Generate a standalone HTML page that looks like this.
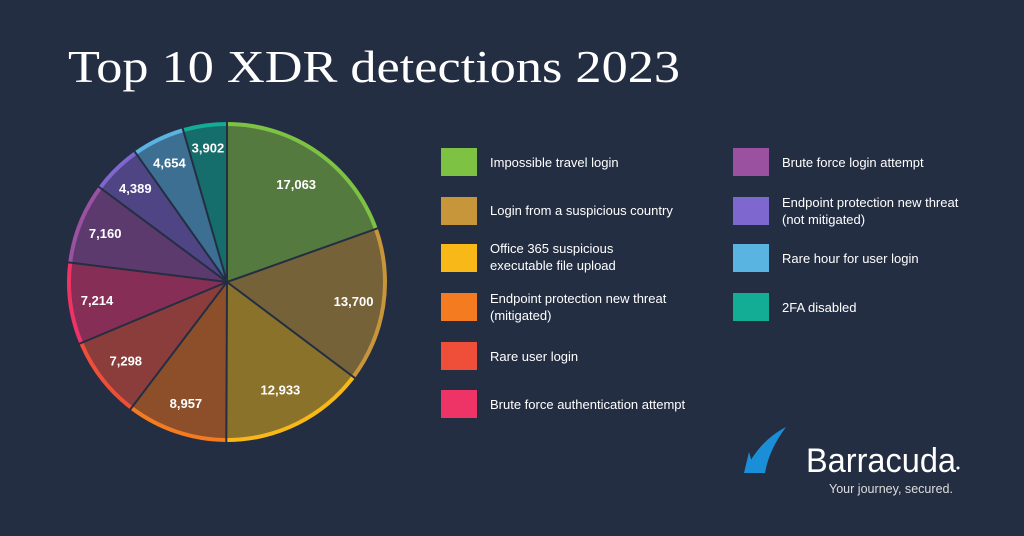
<!DOCTYPE html>
<html><head><meta charset="utf-8"><style>
html,body{margin:0;padding:0;background:#242e42;}
svg{display:block}
</style></head><body>
<svg id="s" width="1024" height="536" xmlns="http://www.w3.org/2000/svg" font-family="Liberation Sans, sans-serif">
<rect width="1024" height="536" fill="#242e42"/>
<text x="68" y="82" fill="#fff" font-family="Liberation Serif, serif" font-size="46" textLength="612" lengthAdjust="spacingAndGlyphs">Top 10 XDR detections 2023</text>
<g id="pie"></g>
<g font-size="13" fill="#fff">
<rect x="441" y="148" width="36" height="28" fill="#7dc242"/><text x="490" y="167">Impossible travel login</text>
<rect x="441" y="197" width="36" height="28" fill="#c8963a"/><text x="490" y="215">Login from a suspicious country</text>
<rect x="441" y="244" width="36" height="28" fill="#f8b817"/><text x="490" y="253">Office 365 suspicious</text><text x="490" y="270">executable file upload</text>
<rect x="441" y="293" width="36" height="28" fill="#f47b20"/><text x="490" y="303">Endpoint protection new threat</text><text x="490" y="320">(mitigated)</text>
<rect x="441" y="342" width="36" height="28" fill="#ef4e38"/><text x="490" y="361">Rare user login</text>
<rect x="441" y="390" width="36" height="28" fill="#ee3466"/><text x="490" y="409">Brute force authentication attempt</text>
<rect x="733" y="148" width="36" height="28" fill="#9a52a0"/><text x="782" y="167">Brute force login attempt</text>
<rect x="733" y="197" width="36" height="28" fill="#7e68cf"/><text x="782" y="207">Endpoint protection new threat</text><text x="782" y="224">(not mitigated)</text>
<rect x="733" y="244" width="36" height="28" fill="#5ab4e2"/><text x="782" y="263">Rare hour for user login</text>
<rect x="733" y="293" width="36" height="28" fill="#13ad96"/><text x="782" y="312">2FA disabled</text>
</g>
<path d="M744 473 C752 455 765 438 786 427 C775 442 768 456 765 473 Z" fill="#1a8fd8"/>
<path d="M744 473 L749 452 L755 473 Z" fill="#1a8fd8"/>
<text x="806" y="472" fill="#fff" font-size="34" textLength="150" lengthAdjust="spacingAndGlyphs">Barracuda</text>
<circle cx="958" cy="468" r="1.5" fill="#fff"/>
<text x="829" y="493" fill="#ddd" font-size="13" textLength="124" lengthAdjust="spacingAndGlyphs">Your journey, secured.</text>
</svg>
<script>
var d=[[17063,"#557a3f","#7dc242",0.75],[13700,"#766239","#c8963a",0.8],[12933,"#8b722b","#f8b817",0.75],[8957,"#8d4f2a","#f47b20",0.8],[7298,"#8a3d3b","#ef4e38",0.8],[7214,"#862e55","#ee3466",0.82],[7160,"#5d3a6e","#9a52a0",0.82],[4389,"#4f4585","#7e68cf",0.82],[4654,"#3d6f93","#5ab4e2",0.83],[3902,"#166e6c","#13ad96",0.85]];
var tot=0;d.forEach(function(e){tot+=e[0]});
var cx=227,cy=282,r=160,a=0,h="",lab="";
function p(ang,rr){return [cx+rr*Math.sin(ang),cy-rr*Math.cos(ang)];}
d.forEach(function(e){
 var b=a+e[0]/tot*2*Math.PI,l=(b-a)>Math.PI?1:0;
 var s=p(a,r),t=p(b,r),s2=p(a,r-4),t2=p(b,r-4);
 h+='<path d="M'+cx+' '+cy+' L'+s[0]+' '+s[1]+' A'+r+' '+r+' 0 '+l+' 1 '+t[0]+' '+t[1]+' Z" fill="'+e[2]+'"/>';
 h+='<path d="M'+cx+' '+cy+' L'+s2[0]+' '+s2[1]+' A'+(r-4)+' '+(r-4)+' 0 '+l+' 1 '+t2[0]+' '+t2[1]+' Z" fill="'+e[1]+'"/>';
 var m=p((a+b)/2,r*e[3]);
 lab+='<text x="'+m[0]+'" y="'+(m[1]+5)+'" text-anchor="middle" fill="#fff" font-size="13" font-weight="bold">'+e[0].toLocaleString("en-US")+'</text>';
 a=b;});
a=0;d.forEach(function(e){var s=p(a,r+1);h+='<line x1="'+cx+'" y1="'+cy+'" x2="'+s[0]+'" y2="'+s[1]+'" stroke="#242e42" stroke-width="2"/>';a+=e[0]/tot*2*Math.PI;});
document.getElementById("pie").innerHTML=h+lab;
</script>
</body></html>
